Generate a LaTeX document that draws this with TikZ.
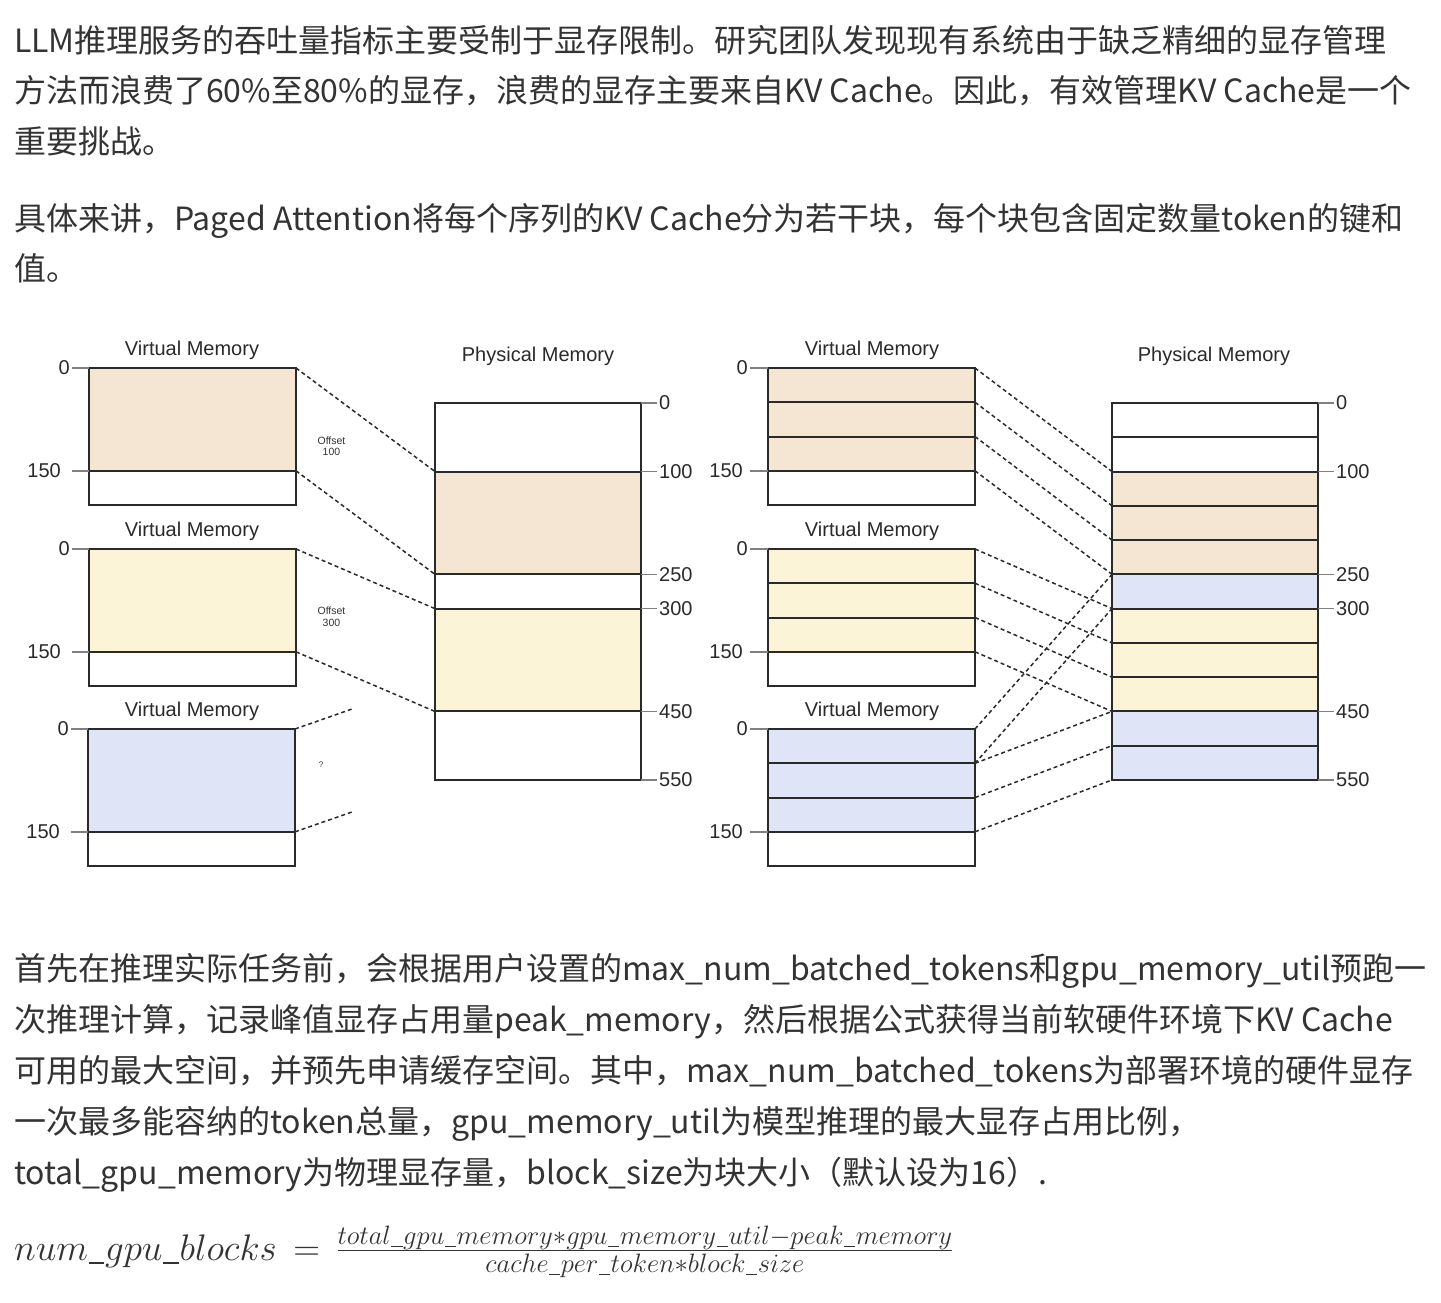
\RequirePackage{fix-cm}
\documentclass[tikz,border=0pt]{standalone}
\usepackage{amsmath}
\usepackage[no-math]{fontspec}
\setmainfont{Noto Sans CJK SC}
\newfontfamily\diagfont{Liberation Sans}
\usetikzlibrary{positioning}
\DeclareMathSizes{37}{37}{26.6}{19}
\definecolor{inkc}{HTML}{333333}
\definecolor{linec}{HTML}{2A2A2A}
\definecolor{tanc}{HTML}{F5E6D3}
\definecolor{yelc}{HTML}{FBF4D6}
\definecolor{bluc}{HTML}{DFE4F7}
\newcommand\usc{\text{\kern0.02em\rule[-0.1em]{0.42em}{0.045em}\kern0.02em}}

\begin{document}
\begin{tikzpicture}[x=1pt, y=-1pt,
    para/.style={anchor=base west, inner sep=0pt, text=inkc, font=\fontsize{32}{50}\selectfont},
    blk/.style={draw=linec, line width=2pt, minimum width=207pt, inner sep=0pt, outer sep=0pt, anchor=north west},
    one/.style={minimum height=34.27pt},
    two/.style={minimum height=68.55pt},
    three/.style={minimum height=102.82pt},
    tick/.style={draw=gray, line width=1.4pt},
    num/.style={font=\diagfont\fontsize{20}{24}\selectfont, text=linec, inner sep=1.5pt},
    ttl/.style={anchor=base, font=\diagfont\fontsize{20}{24}\selectfont, text=linec, inner sep=0pt},
    link/.style={draw=linec, line width=1.5pt, dash pattern=on 4pt off 3pt},
    note/.style={font=\diagfont\fontsize{10.5}{11.5}\selectfont, text=inkc, align=center, inner sep=0pt}]

    \useasboundingbox[fill=white] (0,0) rectangle (1441,1303);

    % text above the figure
    \node[para] (p1a) at (14,52.5) {LLM推理服务的吞吐量指标主要受制于显存限制。研究团队发现现有系统由于缺乏精细的显存管理};
    \node[para] (p1b) at (14,103) {方法而浪费了60\%至80\%的显存，浪费的显存主要来自KV Cache。因此，有效管理KV Cache是一个};
    \node[para] (p1c) at (14,153.5) {重要挑战。};
    \node[para] (p2a) at (14,230.5) {具体来讲，Paged Attention将每个序列的KV Cache分为若干块，每个块包含固定数量token的键和};
    \node[para] (p2b) at (14,280.5) {值。};

    % left: contiguous layout
    \node[ttl] (vaT) at (192,355) {Virtual Memory};
    \node[blk, three, fill=tanc] (va) at (89,368) {};
    \node[blk, one] (vaE) at (va.south west) {};
    \draw[tick] (va.north west) -- ++(-17,0) node[num, left] (va0) {0};
    \draw[tick] (va.south west) -- ++(-17,0) node[num, left, xshift=-9pt] (va150) {150};

    \node[ttl] (vbT) at (192,536) {Virtual Memory};
    \node[blk, three, fill=yelc] (vb) at (89,549) {};
    \node[blk, one] (vbE) at (vb.south west) {};
    \draw[tick] (vb.north west) -- ++(-17,0) node[num, left] (vb0) {0};
    \draw[tick] (vb.south west) -- ++(-17,0) node[num, left, xshift=-9pt] (vb150) {150};

    \node[ttl] (vcT) at (192,716) {Virtual Memory};
    \node[blk, three, fill=bluc] (vc) at (88,729) {};
    \node[blk, one] (vcE) at (vc.south west) {};
    \draw[tick] (vc.north west) -- ++(-17,0) node[num, left] (vc0) {0};
    \draw[tick] (vc.south west) -- ++(-17,0) node[num, left, xshift=-9pt] (vc150) {150};

    \node[ttl] (paT) at (538,361) {Physical Memory};
    \node[blk, two, minimum width=206pt] (pa0) at (435,403) {};
    \node[blk, three, minimum width=206pt, fill=tanc] (pa1) at (pa0.south west) {};
    \node[blk, one, minimum width=206pt] (pa2) at (pa1.south west) {};
    \node[blk, three, minimum width=206pt, fill=yelc] (pa3) at (pa2.south west) {};
    \node[blk, two, minimum width=206pt] (pa4) at (pa3.south west) {};
    \draw[tick] (pa0.north east) -- ++(16,0) node[num, right] {0};
    \draw[tick] (pa0.south east) -- ++(16,0) node[num, right] {100};
    \draw[tick] (pa1.south east) -- ++(16,0) node[num, right] {250};
    \draw[tick] (pa2.south east) -- ++(16,0) node[num, right] {300};
    \draw[tick] (pa3.south east) -- ++(16,0) node[num, right] {450};
    \draw[tick] (pa4.south east) -- ++(16,0) node[num, right] {550};

    \draw[link] (va.north east) -- (pa0.south west);
    \draw[link] (va.south east) -- (pa1.south west);
    \draw[link] (vb.north east) -- (pa2.south west);
    \draw[link] (vb.south east) -- (pa3.south west);
    \coordinate (vcA) at (352,709);
    \coordinate (vcB) at (352,812);
    \draw[link] (vc.north east) -- (vcA);
    \draw[link] (vc.south east) -- (vcB);

    \node[note] (offA) at (331.5,446) {Offset\\100};
    \node[note] (offB) at (331.5,616.5) {Offset\\300};
    \node[note, font=\diagfont\fontsize{8}{9}\selectfont] (offC) at (321,765) {?};

    % right: paged layout
    \node[ttl] (waT) at (872,355) {Virtual Memory};
    \node[blk, one, fill=tanc] (wa1) at (768,368) {};
    \node[blk, one, fill=tanc] (wa2) at (wa1.south west) {};
    \node[blk, one, fill=tanc] (wa3) at (wa2.south west) {};
    \node[blk, one] (wa4) at (wa3.south west) {};
    \draw[tick] (wa1.north west) -- ++(-18,0) node[num, left] (wa0) {0};
    \draw[tick] (wa4.north west) -- ++(-18,0) node[num, left, xshift=-5pt] (wa150) {150};

    \node[ttl] (wbT) at (872,536) {Virtual Memory};
    \node[blk, one, fill=yelc] (wb1) at (768,549) {};
    \node[blk, one, fill=yelc] (wb2) at (wb1.south west) {};
    \node[blk, one, fill=yelc] (wb3) at (wb2.south west) {};
    \node[blk, one] (wb4) at (wb3.south west) {};
    \draw[tick] (wb1.north west) -- ++(-18,0) node[num, left] (wb0) {0};
    \draw[tick] (wb4.north west) -- ++(-18,0) node[num, left, xshift=-5pt] (wb150) {150};

    \node[ttl] (wcT) at (872,716) {Virtual Memory};
    \node[blk, one, fill=bluc] (wc1) at (768,729) {};
    \node[blk, one, fill=bluc] (wc2) at (wc1.south west) {};
    \node[blk, one, fill=bluc] (wc3) at (wc2.south west) {};
    \node[blk, one] (wc4) at (wc3.south west) {};
    \draw[tick] (wc1.north west) -- ++(-18,0) node[num, left] (wc0) {0};
    \draw[tick] (wc4.north west) -- ++(-18,0) node[num, left, xshift=-5pt] (wc150) {150};

    \node[ttl] (pbT) at (1214,361) {Physical Memory};
    \node[blk, one, minimum width=206pt] (pb0) at (1112,403) {};
    \node[blk, one, minimum width=206pt] (pb1) at (pb0.south west) {};
    \node[blk, one, minimum width=206pt, fill=tanc] (pb2) at (pb1.south west) {};
    \node[blk, one, minimum width=206pt, fill=tanc] (pb3) at (pb2.south west) {};
    \node[blk, one, minimum width=206pt, fill=tanc] (pb4) at (pb3.south west) {};
    \node[blk, one, minimum width=206pt, fill=bluc] (pb5) at (pb4.south west) {};
    \node[blk, one, minimum width=206pt, fill=yelc] (pb6) at (pb5.south west) {};
    \node[blk, one, minimum width=206pt, fill=yelc] (pb7) at (pb6.south west) {};
    \node[blk, one, minimum width=206pt, fill=yelc] (pb8) at (pb7.south west) {};
    \node[blk, one, minimum width=206pt, fill=bluc] (pb9) at (pb8.south west) {};
    \node[blk, one, minimum width=206pt, fill=bluc] (pb10) at (pb9.south west) {};
    \draw[tick] (pb0.north east) -- ++(16,0) node[num, right] {0};
    \draw[tick] (pb2.north east) -- ++(16,0) node[num, right] {100};
    \draw[tick] (pb5.north east) -- ++(16,0) node[num, right] {250};
    \draw[tick] (pb6.north east) -- ++(16,0) node[num, right] {300};
    \draw[tick] (pb9.north east) -- ++(16,0) node[num, right] {450};
    \draw[tick] (pb10.south east) -- ++(16,0) node[num, right] {550};

    \draw[link] (wa1.north east) -- (pb2.north west);
    \draw[link] (wa2.north east) -- (pb3.north west);
    \draw[link] (wa3.north east) -- (pb4.north west);
    \draw[link] (wa4.north east) -- (pb5.north west);
    \draw[link] (wb1.north east) -- (pb6.north west);
    \draw[link] (wb2.north east) -- (pb7.north west);
    \draw[link] (wb3.north east) -- (pb8.north west);
    \draw[link] (wb4.north east) -- (pb9.north west);
    \draw[link] (wc1.north east) -- (pb5.north west);
    \draw[link] (wc2.north east) -- (pb6.north west);
    \draw[link] (wc2.north east) -- (pb9.north west);
    \draw[link] (wc3.north east) -- (pb10.north west);
    \draw[link] (wc4.north east) -- (pb10.south west);

    % text below the figure
    \node[para] (p3a) at (14,980.5) {首先在推理实际任务前，会根据用户设置的max\_num\_batched\_tokens和gpu\_memory\_util预跑一};
    \node[para] (p3b) at (14,1031.5) {次推理计算，记录峰值显存占用量peak\_memory，然后根据公式获得当前软硬件环境下KV Cache};
    \node[para] (p3c) at (14,1082.5) {可用的最大空间，并预先申请缓存空间。其中，max\_num\_batched\_tokens为部署环境的硬件显存};
    \node[para] (p3d) at (14,1133.5) {一次最多能容纳的token总量，gpu\_memory\_util为模型推理的最大显存占用比例，};
    \node[para] (p3e) at (14,1184.5) {total\_gpu\_memory为物理显存量，block\_size为块大小（默认设为16）.};

    \node[anchor=base west, inner sep=0pt, text=inkc, font=\fontsize{37}{44}\selectfont] (fml) at (14,1260)
        {$num\usc gpu\usc blocks\,=\,\frac{total\usc gpu\usc memory*gpu\usc memory\usc util-peak\usc memory}{cache\usc per\usc token*block\usc size}$};
\end{tikzpicture}
\end{document}
